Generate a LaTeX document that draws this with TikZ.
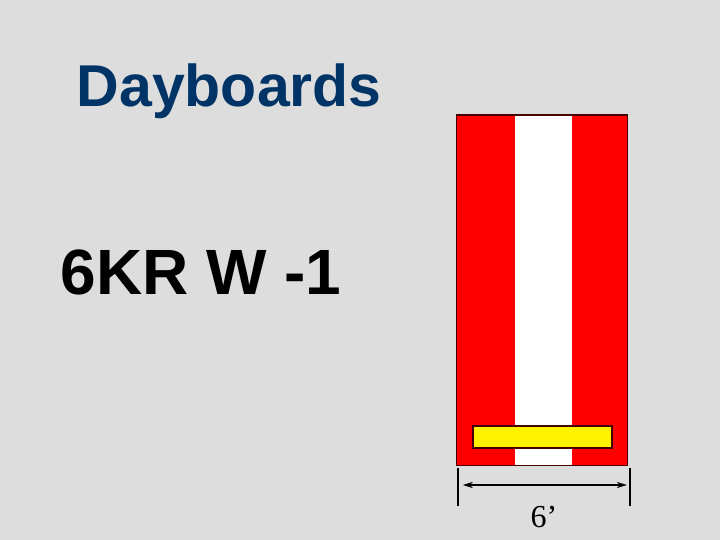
\documentclass[tikz,border=0pt]{standalone}
\usepackage{fontspec}
\setmainfont{Liberation Serif}
\setsansfont{Liberation Sans}
\usetikzlibrary{arrows.meta}
\definecolor{bg}{RGB}{221,221,221}
\definecolor{navy}{RGB}{0,51,102}
\definecolor{darkout}{RGB}{70,0,0}
\tikzset{
  txt/.style={inner sep=0pt, anchor=base west},
  dimline/.style={line width=1.8pt, black},
}
\begin{document}
\begin{tikzpicture}[x=1pt,y=-1pt]
\fill[bg] (0,0) rectangle (720,540);
\useasboundingbox (0,0) rectangle (720,540);
% title and code
\node[txt, text=navy, font=\sffamily\bfseries\fontsize{59}{62}\selectfont] (title) at (76.5,107) {Dayboards};
\node[txt, font=\sffamily\bfseries\fontsize{64}{68}\selectfont] (code) at (60.5,294) {6KR W -1};
% board
\draw[fill=red, draw=darkout, line width=1.2pt] (456.7,115) rectangle (627.7,465.7);
\fill[white] (515,115.6) rectangle (572,465.1);
\draw[fill=yellow, draw=darkout, line width=1.8pt] (473.3,425.7) rectangle (612.3,447.7);
% dimension
\coordinate (t1a) at (457.7,468);
\coordinate (t1b) at (457.7,506);
\coordinate (t2a) at (630,468);
\coordinate (t2b) at (630,506);
\coordinate (al) at (457.7,485);
\coordinate (ar) at (630,485);
\draw[dimline] (t1a) -- (t1b);
\draw[dimline] (t2a) -- (t2b);
\draw[dimline, {Stealth[length=10pt,width=6pt,inset=3pt]}-{Stealth[length=10pt,width=6pt,inset=3pt]}, shorten <=5pt, shorten >=3pt] (al) -- (ar);
\node[txt, font=\rmfamily\fontsize{32}{35}\selectfont] (dim) at (530.5,527) {6’};
\end{tikzpicture}
\end{document}
